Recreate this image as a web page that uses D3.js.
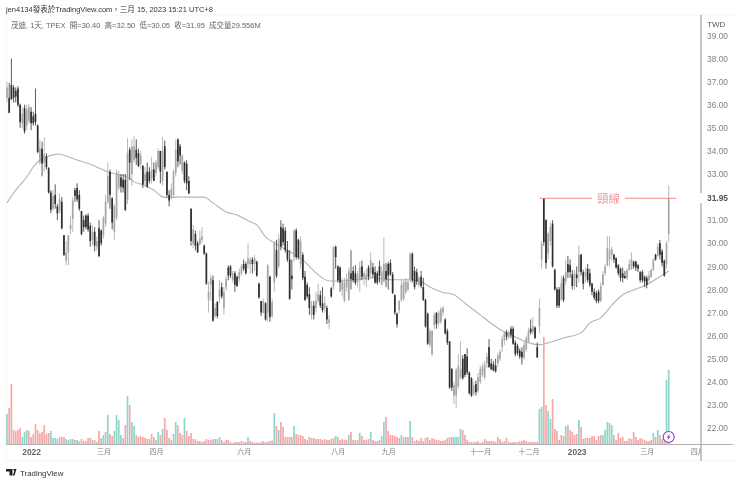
<!DOCTYPE html>
<html>

<head>
    <meta charset="utf-8">
    <script src="https://d3js.org/d3.v7.min.js" type="text/javascript"></script>
    <style>
    html,
    body {
        margin: 0;
        background: white;
    }
    svg {
        display: block;
        filter: blur(0.4px);
    }
    text {
        font-family: "Liberation Sans", "Noto Sans CJK TC", sans-serif;
    }
    .tick text {
        font-size: 8.4px;
        fill: #808080;
    }
    </style>
</head>

<body>
    <div id="chart"></div>
    <script type="text/javascript">
    // daily candles, 10 bars per row
    var opens = [
        36.3, 36.3, 36.85, 36.75, 36.6, 36.7, 36, 35.2, 35.85, 35.1,
        35.3, 35.7, 35.5, 35.6, 35.1, 33.5, 34.1, 33.5, 33.75, 33.25,
        32.2, 31.5, 32.1, 31.6, 31.4, 31.8, 30.35, 29.25, 29.6, 30.6,
        31.05, 32.3, 32.4, 32.1, 31.4, 31, 31.2, 31.2, 30.75, 30.15,
        30.5, 29.85, 30.65, 30.55, 30.35, 30.85, 31.8, 33.1, 31.95, 30.5,
        31.1, 32.4, 32.85, 32.75, 32.75, 31.9, 34.05, 33, 33.6, 34.05,
        33.9, 33.45, 33.35, 32.7, 33.1, 33.1, 32.8, 33.2, 33.05, 33.3,
        34, 32.7, 34.2, 33.1, 32.1, 32, 32.1, 33.05, 34.5, 34.2,
        33.15, 33.5, 33.45, 32.7, 31.5, 29.95, 30.4, 30, 29.95, 30.15,
        29.9, 29.55, 27.55, 28.2, 28.4, 26.85, 27.45, 27.65, 28.1, 27.2,
        28.1, 28.95, 29, 28.4, 28.7, 28.55, 28.45, 28.7, 29.1, 29.1,
        29.1, 29.1, 29.3, 29.1, 29.2, 28.25, 27.5, 27, 27.4, 27,
        28.55, 26.85, 28.3, 29.7, 29, 30.7, 30.65, 30.55, 29.7, 29.3,
        28.6, 29.4, 30.55, 30.15, 29.1, 29.5, 28.55, 28.2, 27.8, 26.9,
        27.3, 27.2, 27.5, 27.75, 27.4, 27.2, 27.2, 26.55, 28.05, 28.1,
        29.85, 29, 28.95, 28, 27.5, 28.1, 27.55, 28.7, 28.8, 28.7,
        28.3, 28.4, 29, 28.5, 28.4, 28.95, 28.7, 28.95, 28.75, 28.7,
        29, 28.2, 28.35, 28.8, 29.1, 29.15, 28.65, 27.75, 26.95, 27.1,
        27.55, 27.6, 27.9, 28, 28.45, 29.55, 28.8, 28.75, 28.2, 28.55,
        28.1, 27.55, 26.95, 25.6, 25.2, 26.45, 27, 26.55, 26.6, 27,
        26.7, 26.2, 25.75, 24.55, 23.4, 23.4, 23.8, 24.2, 25, 25.2,
        25.1, 24.4, 24.15, 23.5, 23.9, 23.6, 24, 24.3, 24.2, 24.8,
        25.5, 24.8, 24.75, 24.7, 24.8, 25, 25.5, 25.8, 26.15, 25.95,
        26.3, 26.3, 25.7, 25.55, 25.35, 25.3, 25.05, 25.4, 25.75, 26.3,
        26.15, 26.35, 25.5, 26.4, 29.3, 31.95, 31, 29.55, 30.1, 30.85,
        28.85, 28, 28, 27.55, 28.5, 28.35, 29.1, 29.05, 28.65, 28.15,
        28.65, 28.75, 29.5, 28.75, 28.55, 28.9, 28.7, 28.25, 27.9, 27.85,
        27.9, 27.5, 28.2, 28.7, 29.05, 29.3, 29.5, 29.5, 29.35, 29.05,
        28.9, 28.7, 28.58, 28.5, 28.85, 28.9, 29.2, 29.2, 29.05, 28.75,
        28.75, 28.55, 28.5, 28.4, 28.55, 28.85, 29.5, 29.45, 30, 29.65,
        29.25, 29.1, 30.4
    ];
    var highs = [
        37, 36.95, 38, 36.85, 36.75, 36.8, 36.05, 35.9, 36, 36,
        36.05, 35.9, 35.7, 36.7, 35.15, 34.5, 34.4, 34.6, 33.9, 33.3,
        32.3, 32.3, 32.55, 31.7, 32.15, 32, 30.35, 30.1, 30.35, 31.2,
        32, 32.4, 32.6, 32.3, 31.4, 31.2, 31.25, 31.3, 30.9, 30.8,
        30.7, 30.3, 31, 30.6, 31.2, 32.1, 33.5, 33.2, 32, 31.7,
        33.2, 33.15, 33, 33, 33, 34.55, 34.15, 34.5, 34.65, 34.5,
        34.1, 34, 33.4, 33.3, 33.5, 33.3, 33.75, 33.5, 33.6, 34.1,
        34, 34.6, 34.45, 33.1, 32.3, 32.6, 33.2, 34.5, 34.55, 34.3,
        33.85, 33.55, 33.6, 32.9, 31.5, 30.8, 30.55, 30.1, 30.55, 30.7,
        29.95, 29.6, 28.35, 28.65, 28.6, 27.4, 27.5, 28.4, 28.3, 28.1,
        28.6, 29.05, 29.05, 28.8, 28.8, 28.6, 28.9, 29.1, 29.3, 29.2,
        30, 29.4, 29.4, 29.5, 29.25, 28.3, 27.5, 27.6, 27.45, 29.1,
        28.6, 27.6, 30.1, 30.15, 30.4, 31, 30.85, 30.7, 30.1, 29.7,
        29.3, 30.6, 30.65, 30.2, 30.3, 29.6, 28.8, 28.3, 28.1, 27.5,
        27.5, 27.9, 28.25, 27.95, 28.1, 27.7, 27.3, 26.9, 28.1, 29.85,
        29.9, 29.05, 29, 28.5, 28.5, 28.7, 28.95, 29.7, 29, 29.05,
        28.8, 29.2, 29.25, 28.8, 28.9, 29.05, 29.6, 29.15, 29, 28.8,
        29.25, 29, 30.25, 29.15, 29.2, 29.3, 28.75, 27.8, 27, 27.55,
        28.4, 28.4, 28.5, 28.45, 29.6, 29.6, 29, 28.9, 28.6, 28.8,
        28.5, 27.6, 27, 26.3, 26.25, 27, 27, 27.1, 27.25, 27.3,
        26.75, 26.3, 25.75, 24.6, 24, 24.6, 25.2, 25.75, 25.15, 25.2,
        25.45, 24.45, 24.2, 24, 24.05, 24.4, 24.7, 24.8, 24.9, 25.25,
        25.85, 25, 24.9, 25, 25.25, 25.4, 26, 26.2, 26.25, 26.2,
        26.4, 26.4, 25.8, 25.65, 25.45, 25.5, 25.75, 26, 26.35, 26.7,
        26.8, 26.4, 25.7, 27.6, 30.1, 31.95, 31.05, 30.5, 30.9, 31,
        28.9, 28.1, 28.1, 28.6, 28.6, 29.3, 29.45, 29.3, 28.85, 28.85,
        29, 29.9, 29.55, 28.85, 28.95, 29.1, 28.9, 28.3, 28.05, 27.95,
        28, 28.3, 28.8, 29.1, 30.3, 30.3, 29.85, 29.55, 29.4, 29.1,
        28.95, 28.95, 28.8, 28.9, 29.3, 29.6, 29.25, 29.25, 29.1, 28.8,
        28.85, 28.6, 28.6, 28.8, 28.9, 29.35, 29.55, 30, 30.15, 29.75,
        29.3, 30.1, 32.5
    ];
    var lows = [
        36.1, 35.65, 36.2, 36.1, 36.1, 35.9, 35, 35, 34.75, 34.9,
        35.2, 34.9, 35.1, 35.1, 33.9, 33.4, 32.9, 33.1, 33.2, 32.15,
        31.3, 31.4, 31.5, 31, 31.3, 30.6, 29.45, 29.05, 29.05, 30.4,
        30.5, 31.8, 31.8, 31.4, 30.35, 30.5, 30.6, 30.5, 29.85, 29.9,
        29.65, 29.7, 29.4, 29.9, 30.2, 30.7, 31.7, 31.5, 30.6, 30.15,
        31, 32.3, 32.2, 32.2, 31.4, 31.7, 32.75, 32.5, 33.5, 33.4,
        33.3, 33.2, 32.4, 32.5, 32.4, 32.6, 32.6, 32.7, 32.9, 33.2,
        32.6, 32.5, 33.2, 32, 31.6, 31.9, 32, 32.9, 33.3, 33.4,
        33, 32.6, 32.3, 32.15, 29.9, 29.8, 29.7, 29.6, 29.9, 30,
        29.5, 28.2, 27, 27.5, 26.6, 26.75, 26.75, 27.4, 27.6, 26.9,
        27.95, 28.4, 28.5, 28.3, 27.9, 28.1, 28.3, 28.6, 28.8, 28.65,
        28.9, 28.7, 28.7, 28.8, 28.55, 27.6, 26.85, 26.95, 26.65, 26.6,
        26.6, 26.75, 27.9, 28.5, 28.9, 29.7, 29.9, 29.6, 29.2, 27.55,
        28, 29.2, 29.3, 29.3, 28.9, 28.4, 27.5, 27.6, 26.9, 26.7,
        26.7, 27, 27.4, 27.2, 27, 27, 26.5, 26.3, 27.65, 28,
        28.9, 28.3, 27.9, 27.7, 27.45, 27.9, 27.5, 28, 28.3, 28.2,
        28.1, 27.9, 28.4, 28.2, 28.1, 28.4, 28.5, 28.5, 28.25, 28.2,
        28.3, 28.2, 28.3, 28.1, 28, 28.6, 27.8, 26.9, 26.35, 26.95,
        27.45, 27.5, 27.8, 27.9, 28.3, 28.3, 28, 28.2, 28.1, 28.05,
        27.5, 26.35, 25.6, 25.5, 25.1, 26.3, 26.3, 26.4, 26.5, 26.85,
        26.05, 25.6, 23.7, 23.6, 23.05, 22.85, 23.7, 24.1, 24.1, 24.2,
        24.3, 23.45, 23.35, 23.4, 23.4, 23.5, 23.9, 24.2, 24.1, 24.6,
        24.6, 24.5, 24.45, 24.4, 24.65, 24.9, 25.3, 25.6, 25.8, 25.85,
        25.9, 25.6, 25.1, 25.15, 25, 24.75, 24.95, 25.3, 25.7, 26.05,
        26.05, 25.85, 25.05, 26.1, 28.9, 29.9, 28.9, 29.3, 29.9, 28.95,
        27.95, 27.2, 27.2, 27.5, 27.45, 28.2, 28.5, 28.5, 28, 28,
        28.1, 28.3, 28.6, 28, 28.3, 28.3, 28.1, 27.75, 27.55, 27.4,
        27.4, 27.45, 28.15, 28.6, 29, 29, 29.25, 29.15, 28.9, 28.6,
        28.35, 28.3, 28.45, 28.4, 28.8, 28.85, 28.9, 28.8, 28.75, 28.3,
        28.3, 28.1, 28.05, 28.3, 28.5, 28.8, 29.25, 29.4, 29.3, 29,
        28.55, 28.9, 30.05
    ];
    var closes = [
        36.75, 35.65, 36.25, 36.3, 36.35, 36, 35.25, 35.6, 34.85, 35.8,
        35.9, 35.2, 35.2, 35.25, 33.95, 34.1, 33.45, 33.85, 33.3, 32.2,
        31.45, 32.05, 31.7, 31.3, 31.9, 30.65, 29.5, 29.6, 30.35, 30.8,
        31.85, 32.05, 31.9, 31.5, 30.4, 30.7, 30.7, 30.6, 30.1, 30.5,
        29.9, 30.1, 29.45, 30, 31.1, 31.8, 32.9, 32.1, 30.9, 31.6,
        33.05, 33, 32.45, 32.4, 31.45, 33.9, 33.5, 34.2, 34.2, 33.7,
        33.35, 33.8, 32.55, 33, 32.45, 32.7, 33.2, 32.7, 33.5, 34,
        33.1, 34, 33.3, 32.1, 31.85, 32.35, 33.1, 34.05, 33.55, 33.8,
        33.8, 32.7, 32.6, 32.15, 30.1, 30.6, 29.9, 29.6, 30.2, 30.3,
        29.55, 28.25, 27.9, 28.5, 26.65, 27.2, 26.85, 28, 27.7, 27.9,
        28.45, 28.6, 28.6, 28.7, 28.2, 28.15, 28.75, 29, 28.9, 28.7,
        29.35, 29.3, 29.1, 29.35, 28.6, 27.65, 27, 27.5, 26.7, 29.05,
        26.8, 27.45, 30, 28.6, 30.2, 29.85, 30.05, 29.7, 29.3, 27.6,
        28.45, 30.55, 29.4, 29.4, 30.1, 28.5, 27.55, 27.7, 27.2, 27.3,
        26.9, 27.5, 27.8, 27.3, 27.1, 27.4, 26.7, 26.7, 27.7, 29.85,
        29.4, 28.4, 28.3, 28.4, 28.3, 28.45, 28.8, 28.45, 28.4, 28.3,
        28.65, 28.95, 28.55, 28.7, 28.65, 28.55, 29.25, 28.65, 28.3, 28.3,
        28.6, 28.8, 29.1, 28.45, 28.6, 28.65, 27.85, 27, 26.5, 27.5,
        28.2, 28.3, 28.35, 28.3, 29.55, 28.4, 28.1, 28.35, 28.5, 28.15,
        27.55, 26.4, 25.65, 26.2, 26.2, 26.9, 26.5, 27, 27.15, 27.2,
        26.1, 25.7, 23.75, 23.75, 23.85, 24.5, 24.7, 24.55, 24.15, 24.3,
        24.4, 23.5, 23.4, 23.85, 23.55, 24.2, 24.55, 24.65, 24.75, 25.1,
        24.65, 24.55, 24.5, 24.45, 25.15, 25.3, 25.85, 26.1, 25.95, 26.15,
        26.05, 25.65, 25.2, 25.25, 25.1, 25.05, 25.6, 25.9, 26.2, 26.15,
        26.4, 25.9, 25.05, 27.2, 30, 30.05, 29.15, 30.4, 30.7, 29,
        28, 27.3, 27.3, 28.27, 27.55, 28.75, 28.75, 28.75, 28.15, 28.7,
        28.5, 29.5, 28.75, 28.25, 28.75, 28.4, 28.2, 27.9, 27.65, 27.5,
        27.5, 28.15, 28.65, 29, 29.8, 29.7, 29.75, 29.3, 28.95, 28.7,
        28.5, 28.5, 28.5, 28.85, 29.1, 29.3, 29, 28.95, 28.9, 28.4,
        28.4, 28.35, 28.2, 28.6, 28.85, 29.3, 29.3, 29.85, 29.5, 29.15,
        28.6, 30, 31.95
    ];
    // volume in millions, same order as the candles
    var volumes = [
        12, 14.4, 24, 5.6, 5.2, 5.6, 6.4, 2.8, 4.8, 5.6,
        5.2, 2.8, 4, 8, 5.6, 4.4, 4.8, 7.6, 4, 4.4,
        5.2, 2.4, 2.4, 2, 2.8, 2.8, 2.8, 2, 1.6, 2,
        2, 1.6, 1.6, 1.2, 2, 1.2, 1.2, 2.4, 2.4, 1.6,
        1.6, 0.8, 5.2, 2.4, 3.6, 4.8, 11.6, 4, 3.2, 5.2,
        11.6, 9.6, 3.6, 2.4, 7.6, 19.2, 15.6, 8.8, 7.2, 3.6,
        2.8, 3.2, 2.8, 2.4, 2, 2, 4, 2.8, 1.6, 4.8,
        3.6, 6, 10.4, 5.6, 2.4, 1.6, 4, 8.8, 7.6, 4.4,
        3.6, 10.4, 5.2, 3.2, 4.4, 2, 2, 1.2, 1.2, 0.8,
        1.2, 2, 1.6, 1.6, 2, 2, 2, 2.8, 1.6, 0.8,
        1.6, 1.6, 0.8, 0.4, 0.8, 0.8, 0.8, 1.2, 0.8, 0.8,
        2.8, 1.2, 0.8, 0.6, 0.6, 0.4, 0.8, 1.2, 0.8, 1,
        1.2, 1.4, 12.4, 7.2, 5.6, 8.8, 6.8, 2.8, 2.8, 2.8,
        2.8, 7.2, 4, 3.6, 3.6, 3.2, 2, 1.6, 2.8, 2.4,
        2.4, 2, 2, 2, 1.6, 2, 1.6, 1.6, 2, 2.4,
        3.2, 2.8, 1.6, 2, 1.6, 1.6, 3.6, 4.8, 1.6, 1.6,
        1.6, 4.4, 3.2, 1.6, 1.6, 2, 4.8, 1.6, 1.2, 1.2,
        1.6, 3.2, 8.8, 10.8, 5.2, 3.6, 3.6, 3.2, 2.8, 2.4,
        3.6, 2.8, 2.8, 2.8, 9.2, 2.8, 1.2, 1.6, 1.2, 2.4,
        1.2, 2.4, 2.8, 1.6, 2.4, 2, 1.6, 1.6, 1.2, 1.2,
        1.6, 2.4, 2.8, 2.8, 2.8, 2.8, 2.8, 6, 5.6, 3.6,
        1.6, 0.8, 0.8, 0.8, 0.8, 1.2, 0.4, 0.8, 2, 1.2,
        1.2, 1.2, 1.2, 0.8, 2.8, 2, 0.8, 1.2, 2.4, 0.8,
        0.6, 0.8, 0.8, 0.8, 1.2, 1.2, 1.6, 1.2, 0.8, 0.8,
        0.8, 0.8, 0.8, 14, 14.8, 42.8, 15.6, 13.2, 10, 18,
        6, 5.2, 1.6, 3.6, 3.2, 7.2, 7.6, 5.6, 4.8, 3.6,
        4, 9.6, 6.8, 2, 2.4, 2.4, 2.4, 3.2, 3.2, 1.6,
        3.2, 3.6, 3.6, 5.6, 8.8, 8.4, 7.6, 3.6, 1.6, 4.4,
        2.4, 2.8, 1.2, 1.2, 2.4, 2, 4.8, 2.8, 1.6, 2.4,
        2, 1.6, 1.2, 1.2, 1.6, 4.4, 2.8, 5.6, 3.6, 2,
        2, 25.6, 29.556
    ];
    // volume bars that read teal in the picture, all others are pink
    var tealVolumeBars = [0, 7, 8, 9, 20, 21, 22, 23, 27, 28, 29, 30, 32, 33, 39, 44, 45, 46, 49, 50, 51, 52, 55, 57, 58, 68, 69, 71, 76, 77, 81, 95, 96, 97, 110, 122, 124, 131, 150, 156, 161, 166, 171, 172, 180, 181, 184, 204, 205, 206, 207, 226, 243, 244, 247, 248, 255, 261, 272, 273, 274, 275, 276, 295, 297, 301, 302];
    // moving average, bar number and value
    var maBars = [0, 3, 6, 9, 12, 15, 18, 21, 24, 27, 32, 35, 39, 42, 46, 50, 55, 58, 62, 67, 71, 74, 78, 82, 90, 94, 100, 105, 111, 114, 118, 122, 129, 135, 141, 147, 152, 158, 167, 176, 183, 189, 193, 198, 204, 210, 216, 220, 226, 233, 237, 243, 247, 254, 262, 266, 271, 277, 281, 286, 292, 297, 302];
    var maValues = [31.75, 32.18, 32.53, 32.87, 33.31, 33.61, 33.74, 33.83, 33.87, 33.78, 33.61, 33.52, 33.39, 33.26, 33.09, 33, 32.87, 32.66, 32.53, 32.31, 32.01, 31.97, 32.01, 32, 32, 31.75, 31.36, 31.23, 30.93, 30.8, 30.28, 30.02, 29.63, 29.28, 28.72, 28.37, 28.37, 28.42, 28.5, 28.42, 28.42, 28.33, 28.11, 27.9, 27.77, 27.33, 26.9, 26.6, 26.21, 25.9, 25.73, 25.6, 25.69, 25.9, 26.12, 26.55, 26.77, 27.42, 27.77, 27.98, 28.2, 28.5, 28.8];

    var priceTicks = [39, 38, 37, 36, 35, 34, 33, 31, 30, 29, 28, 27, 26, 25, 24, 23, 22];
    var lastClose = 31.95;
    var monthBars = [11, 44, 68, 108, 151, 174, 216, 238, 260, 292, 315];
    var monthLabels = ["2022", "三月", "四月", "六月", "八月", "九月", "十一月", "十二月", "2023", "三月", "四月"];
    var neckBreaks = [[243, 267], [282, 305.5]];

    var width = 740,
        height = 482;

    var svg = d3.select("#chart").append("svg")
        .attr("width", width)
        .attr("height", height);

    var x = d3.scaleLinear().domain([0, 302]).range([7, 668.7]);
    var y = d3.scaleLinear().domain([22, 39]).range([428, 35.5]);
    var v = d3.scaleLinear().domain([0, 29.556]).range([444, 370]);

    var bars = d3.range(opens.length);

    // pane borders
    svg.append("path")
        .attr("d", "M6,15H735M6,461H735M6,15V461")
        .attr("fill", "none")
        .attr("stroke", "#f5f5f5");

    // volume
    svg.selectAll(".vol")
        .data(bars)
        .enter()
        .append("rect")
        .attr("class", "vol")
        .attr("x", function(d) { return x(d) - 0.85 })
        .attr("width", 1.7)
        .attr("y", function(d) { return v(volumes[d]) })
        .attr("height", function(d) { return v(0) - v(volumes[d]) })
        .attr("fill", function(d) { return tealVolumeBars.includes(d) ? "#8fd5c9" : "#f6a8a8" });

    // moving average goes under the candles
    var maLine = d3.line()
        .curve(d3.curveMonotoneX)
        .x(function(d) { return x(d) })
        .y(function(d, i) { return y(maValues[i]) });

    svg.append("path")
        .attr("d", maLine(maBars))
        .attr("fill", "none")
        .attr("stroke", "#b4b4b4")
        .attr("stroke-width", 1.1);

    // candles
    var candleColor = function(d) { return closes[d] >= opens[d] ? "#a6a6a6" : "#2f2f2f" };

    svg.selectAll(".wick")
        .data(bars)
        .enter()
        .append("line")
        .attr("class", "wick")
        .attr("x1", function(d) { return x(d) })
        .attr("x2", function(d) { return x(d) })
        .attr("y1", function(d) { return y(highs[d]) })
        .attr("y2", function(d) { return y(lows[d]) })
        .attr("stroke", candleColor)
        .attr("stroke-width", 0.8);

    svg.selectAll(".body")
        .data(bars)
        .enter()
        .append("rect")
        .attr("class", "body")
        .attr("x", function(d) { return x(d) - 0.85 })
        .attr("width", 1.7)
        .attr("y", function(d) { return y(Math.max(opens[d], closes[d])) })
        .attr("height", function(d) { return Math.max(0.8, Math.abs(y(opens[d]) - y(closes[d]))) })
        .attr("fill", candleColor);

    // neckline note
    svg.selectAll(".neck")
        .data(neckBreaks)
        .enter()
        .append("line")
        .attr("class", "neck")
        .attr("x1", function(d) { return x(d[0]) })
        .attr("x2", function(d) { return x(d[1]) })
        .attr("y1", y(lastClose))
        .attr("y2", y(lastClose))
        .attr("stroke", "#f08c90")
        .attr("stroke-width", 1);

    svg.append("text")
        .attr("x", x(274.5))
        .attr("y", y(lastClose) + 4.5)
        .attr("text-anchor", "middle")
        .style("font-size", "11.5px")
        .attr("fill", "#f39aa0")
        .text("頸線");

    // time axis, the last label is cut by the price axis
    svg.append("clipPath").attr("id", "timeClip")
        .append("rect").attr("x", 0).attr("y", -5).attr("width", 701).attr("height", 30);

    var timeAxis = svg.append("g")
        .attr("transform", "translate(0,445)")
        .attr("clip-path", "url(#timeClip)")
        .call(d3.axisBottom(x)
            .tickValues(monthBars)
            .tickSize(0)
            .tickPadding(4)
            .tickFormat(function(d, i) { return monthLabels[i] }));
    timeAxis.select(".domain").remove();
    timeAxis.selectAll(".tick text")
        .style("font-size", function(d, i) { return monthLabels[i].length == 4 ? "8.4px" : "7px" })
        .style("font-weight", function(d, i) { return monthLabels[i].length == 4 ? "bold" : "normal" })
        .style("fill", function(d, i) { return monthLabels[i].length == 4 ? "#666" : "#808080" });

    svg.append("line")
        .attr("x1", 6).attr("x2", 733)
        .attr("y1", 444.5).attr("y2", 444.5)
        .attr("stroke", "#b0b0b0")
        .attr("stroke-width", 1.2);

    // price axis
    svg.append("line")
        .attr("x1", 701).attr("x2", 701)
        .attr("y1", 15).attr("y2", 461)
        .attr("stroke", "#b8b8b8")
        .attr("stroke-width", 1.6);

    var priceAxis = svg.append("g")
        .attr("transform", "translate(701,0)")
        .call(d3.axisRight(y)
            .tickValues(priceTicks)
            .tickSize(0)
            .tickPadding(6)
            .tickFormat(d3.format(".2f")));
    priceAxis.select(".domain").remove();

    svg.append("rect")
        .attr("x", 699).attr("y", y(lastClose) - 5)
        .attr("width", 32).attr("height", 10)
        .attr("fill", "white");
    svg.append("text")
        .attr("x", 707)
        .attr("y", y(lastClose) + 3)
        .style("font-size", "8.4px")
        .style("font-weight", "bold")
        .attr("fill", "#555")
        .text(d3.format(".2f")(lastClose));

    svg.append("text")
        .attr("x", 707).attr("y", 26.5)
        .style("font-size", "8px")
        .attr("fill", "#555")
        .text("TWD");

    // header
    svg.append("text")
        .attr("x", 6).attr("y", 11.8)
        .style("font-size", "7.5px")
        .attr("fill", "#333")
        .text("jen4134發表於TradingView.com，三月 15, 2023 15:21 UTC+8");

    svg.append("text")
        .attr("x", 11).attr("y", 28.3)
        .style("font-size", "7.5px")
        .attr("fill", "#666")
        .attr("xml:space", "preserve")
        .text("茂迪, 1天, TPEX  開=30.40  高=32.50  低=30.05  收=31.95  成交量29.556M");

    // realtime badge on the last bar
    var badge = svg.append("g")
        .attr("transform", "translate(" + x(302) + ",437)");
    badge.append("circle")
        .attr("r", 5.5)
        .attr("fill", "white")
        .attr("stroke", "#8e44c4")
        .attr("stroke-width", 1.2);
    badge.append("path")
        .attr("d", "M1.2,-3.2L-2,0.5H-0.3L-1.2,3.2L2,-0.6H0.3Z")
        .attr("fill", "#8e44c4");

    // tradingview logo
    svg.append("path")
        .attr("d", "M6,469H12.5V475.5H9.5V471.5H6ZM13,469H16.5L14.5,475.5H12.8L14.3,471Z")
        .attr("fill", "#222");
    svg.append("text")
        .attr("x", 20).attr("y", 475.5)
        .style("font-size", "7.9px")
        .attr("fill", "#333")
        .text("TradingView");
    </script>
</body>

</html>
